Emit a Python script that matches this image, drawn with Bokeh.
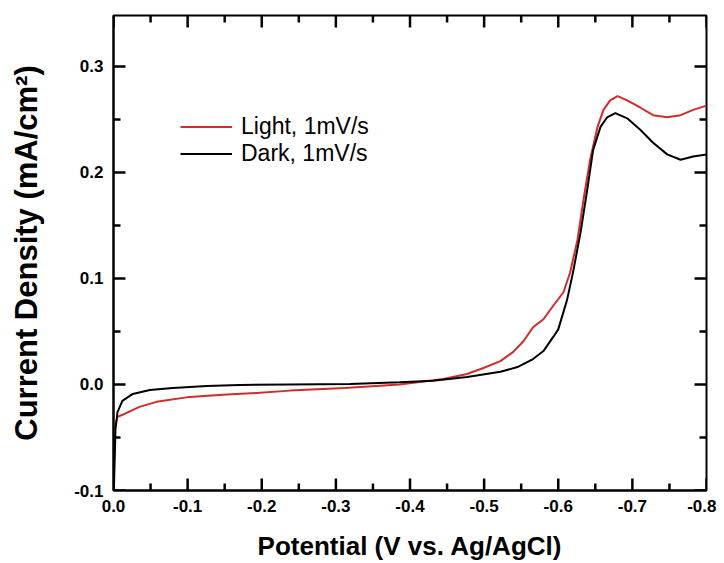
from bokeh.plotting import figure
from bokeh.models import Range1d, FixedTicker, PrintfTickFormatter, Legend, LegendItem
from bokeh.embed import file_html
from bokeh.resources import INLINE

# Light, 1mV/s
light_v = [0.0, -0.0014, -0.0054, -0.012, -0.035, -0.058, -0.103, -0.147, -0.193, -0.238,
           -0.312, -0.386, -0.445, -0.477, -0.499, -0.522, -0.539, -0.553, -0.566, -0.580,
           -0.593, -0.607, -0.616, -0.626, -0.634, -0.643, -0.653, -0.661, -0.670, -0.680,
           -0.693, -0.711, -0.728, -0.747, -0.765, -0.782, -0.800]
light_j = [-0.100, -0.042, -0.0305, -0.0286, -0.0211, -0.0164, -0.0117, -0.0096, -0.008, -0.0058,
           -0.0033, 0.0, 0.0052, 0.0099, 0.0155, 0.022, 0.0305, 0.0408, 0.054, 0.0615,
           0.074, 0.087, 0.1056, 0.1366, 0.174, 0.212, 0.243, 0.259, 0.268, 0.272,
           0.268, 0.261, 0.254, 0.252, 0.254, 0.259, 0.263]

# Dark, 1mV/s
dark_v = [-0.0005, -0.0027, -0.0054, -0.012, -0.026, -0.049, -0.080, -0.126, -0.170, -0.238,
          -0.319, -0.386, -0.431, -0.477, -0.522, -0.545, -0.566, -0.580, -0.593, -0.600,
          -0.612, -0.620, -0.630, -0.639, -0.647, -0.657, -0.666, -0.677, -0.693, -0.711,
          -0.728, -0.747, -0.765, -0.782, -0.800]
dark_j = [-0.100, -0.042, -0.026, -0.0155, -0.0089, -0.0052, -0.0033, -0.0014, -0.0005, 0.0,
          0.0005, 0.002, 0.0036, 0.007, 0.012, 0.0164, 0.024, 0.0315, 0.0446, 0.052,
          0.080, 0.106, 0.143, 0.183, 0.221, 0.243, 0.252, 0.256, 0.251, 0.240,
          0.228, 0.217, 0.212, 0.215, 0.217]

x_ticks = [0.0, -0.1, -0.2, -0.3, -0.4, -0.5, -0.6, -0.7, -0.8]
x_minor = [-0.05, -0.15, -0.25, -0.35, -0.45, -0.55, -0.65, -0.75]
y_ticks = [-0.1, 0.0, 0.1, 0.2, 0.3]
y_minor = [-0.05, 0.05, 0.15, 0.25]

legend_labels = ["Light, 1mV/s", "Dark, 1mV/s"]

FONT = "Liberation Sans"

W, H = 716, 563
BL, BR, BT, BB = 113, 10, 15, 71
X0, X1 = 0.0, -0.8
Y0, Y1 = -0.1, 0.348

p = figure(width=W, height=H, output_backend="svg", toolbar_location=None,
           x_range=Range1d(X0, X1), y_range=Range1d(Y0, Y1),
           min_border_left=BL, min_border_right=BR, min_border_top=BT, min_border_bottom=BB)
p.grid.visible = False
p.outline_line_color = "black"
p.outline_line_width = 2
p.background_fill_color = "white"
p.border_fill_color = "white"

r1 = p.line(light_v, light_j, line_color="#d12b2b", line_width=2)
r2 = p.line(dark_v, dark_j, line_color="black", line_width=2)


def style_axis(ax, ticks, minor):
    ax.ticker = FixedTicker(ticks=ticks, minor_ticks=minor)
    ax.formatter = PrintfTickFormatter(format="%.1f")
    ax.axis_line_color = "black"
    ax.axis_line_width = 2
    ax.major_tick_in = 0
    ax.major_tick_out = 0
    ax.minor_tick_in = 0
    ax.minor_tick_out = 0
    ax.major_label_text_font = FONT
    ax.major_label_text_font_style = "bold"
    ax.major_label_text_font_size = "17px"
    ax.major_label_text_color = "black"
    ax.major_label_standoff = 10
    ax.axis_label_text_font = FONT
    ax.axis_label_text_font_style = "bold"
    ax.axis_label_text_color = "black"


style_axis(p.xaxis[0], x_ticks, x_minor)
style_axis(p.yaxis[0], y_ticks, y_minor)
p.xaxis[0].axis_label = "Potential (V vs. Ag/AgCl)"
p.xaxis[0].axis_label_text_font_size = "26px"
p.xaxis[0].major_label_standoff = 9
p.xaxis[0].axis_label_standoff = 16
p.yaxis[0].axis_label = "Current Density (mA/cm²)"
p.yaxis[0].axis_label_text_font_size = "31px"
p.yaxis[0].axis_label_standoff = 27

# inward ticks on all four sides, drawn as segments from the tick lists
px_x = abs(X1 - X0) / (W - BL - BR)   # data units per pixel
px_y = abs(Y1 - Y0) / (H - BT - BB)
MAJ, MIN = 12, 7
inward_x = -1 if X1 < X0 else 1       # reversed x axis
TICK_COLOR = "black"
TICK_W = 2.5


def xticks(vals, length):
    n = len(vals)
    p.segment(x0=vals, y0=[Y0] * n, x1=vals, y1=[Y0 + length * px_y] * n,
              line_color=TICK_COLOR, line_width=TICK_W)
    p.segment(x0=vals, y0=[Y1] * n, x1=vals, y1=[Y1 - length * px_y] * n,
              line_color=TICK_COLOR, line_width=TICK_W)


def yticks(vals, length):
    n = len(vals)
    p.segment(x0=[X0] * n, y0=vals, x1=[X0 + inward_x * length * px_x] * n, y1=vals,
              line_color=TICK_COLOR, line_width=TICK_W)
    p.segment(x0=[X1] * n, y0=vals, x1=[X1 - inward_x * length * px_x] * n, y1=vals,
              line_color=TICK_COLOR, line_width=TICK_W)


xticks(x_ticks, MAJ)
xticks(x_minor, MIN)
yticks(y_ticks, MAJ)
yticks(y_minor, MIN)

legend = Legend(items=[LegendItem(label=legend_labels[0], renderers=[r1]),
                       LegendItem(label=legend_labels[1], renderers=[r2])],
                location=(67, 323))
legend.border_line_color = None
legend.background_fill_alpha = 0
legend.label_text_font = FONT
legend.label_text_font_size = "23px"
legend.label_text_color = "black"
legend.glyph_width = 52
legend.glyph_height = 27
legend.label_height = 27
legend.label_standoff = 9
legend.spacing = 0
legend.padding = 0
legend.margin = 0
p.add_layout(legend)

open("out.html", "w").write(file_html(p, INLINE))
